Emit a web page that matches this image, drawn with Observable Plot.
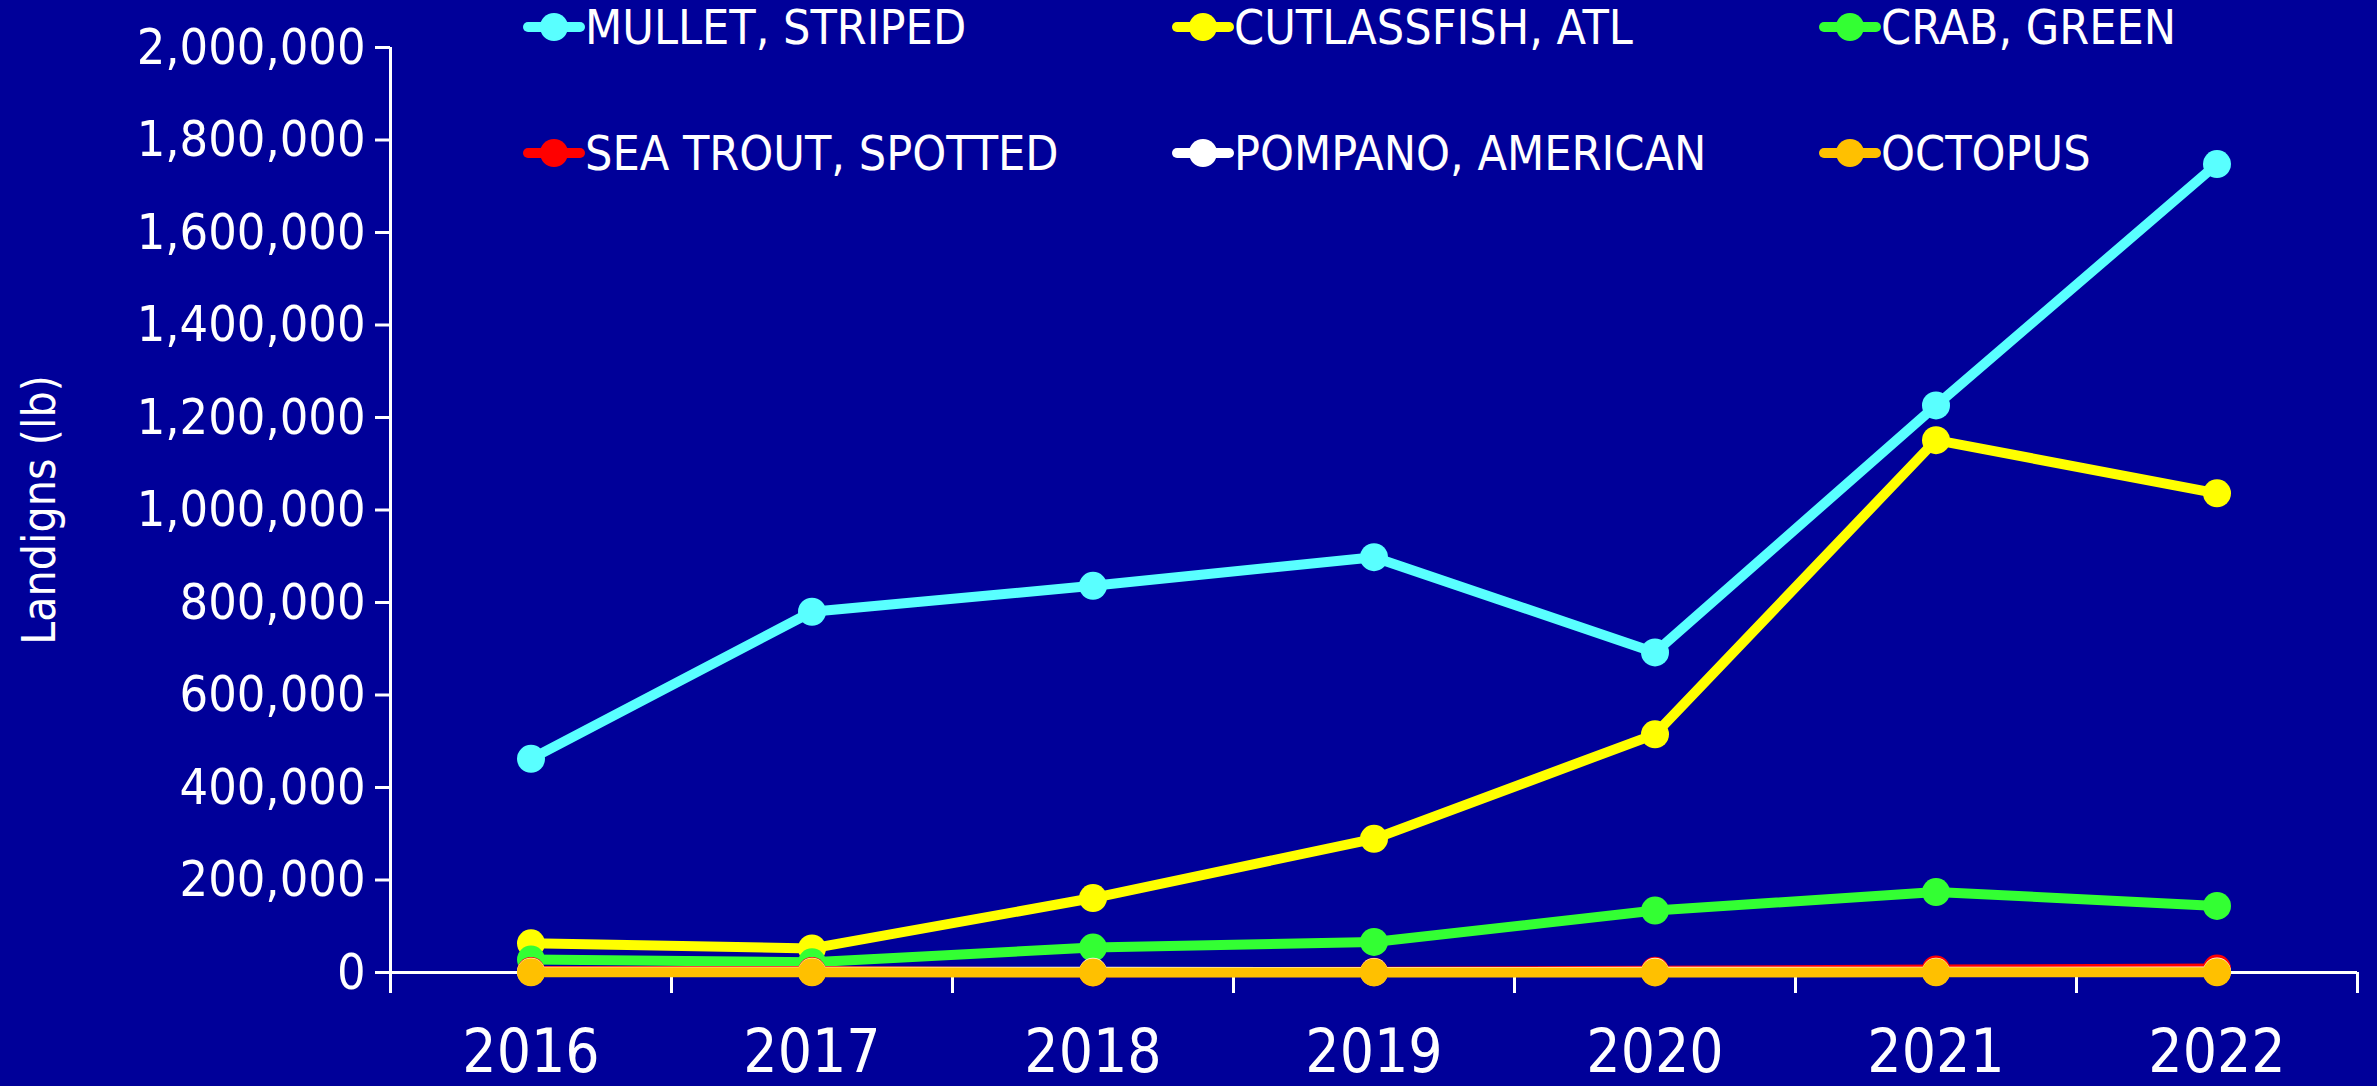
<!DOCTYPE html>
<html>
<head>
<meta charset="utf-8">
<script src="https://cdn.jsdelivr.net/npm/d3@7"></script>
<script src="https://cdn.jsdelivr.net/npm/@observablehq/plot@0.6"></script>
<style>
  html, body { margin: 0; padding: 0; background: #000099; }
  #wrap { position: relative; width: 2377px; height: 1086px; background: #000099; overflow: hidden; }
  #chart { position: absolute; left: 0; top: 0; }
  .legend-item { position: absolute; display: flex; align-items: center; height: 60px; margin-top: -30px;
    font-family: "DejaVu Sans Condensed", "DejaVu Sans", sans-serif; font-size: 48px; color: #ffffff; white-space: nowrap; }
  .legend-item svg { display: block; flex: none; }
</style>
</head>
<body>
<div id="wrap"><div id="chart"></div></div>
<script>
const years = [2016, 2017, 2018, 2019, 2020, 2021, 2022];
const seriesNames = ["MULLET, STRIPED", "CUTLASSFISH, ATL", "CRAB, GREEN", "SEA TROUT, SPOTTED", "POMPANO, AMERICAN", "OCTOPUS"];
const seriesColors = ["#59FFFF", "#FFFF00", "#33FF33", "#FF0000", "#FFFFFF", "#FFC000"];
const mullet      = [462000, 780000, 836000, 898000, 692000, 1226000, 1748000];
const cutlassfish = [63000, 52000, 161000, 289000, 515000, 1151000, 1036000];
const crab        = [28000, 22000, 54000, 66000, 134000, 174000, 144000];
const seaTrout    = [3000, 3000, 500, 1500, 4000, 6500, 8500];
const pompano     = [1500, 1500, 1500, 1000, 1500, 1500, 2000];
const octopus     = [300, 300, 200, 200, 200, 300, 300];
const yTicks = [0, 200000, 400000, 600000, 800000, 1000000, 1200000, 1400000, 1600000, 1800000, 2000000];
const yLabel = "Landigns (lb)";

const seriesValues = [mullet, cutlassfish, crab, seaTrout, pompano, octopus];
const edges = [years[0] - 0.5, ...years.map(y => y + 0.5)];
const font = '"DejaVu Sans Condensed", "DejaVu Sans", sans-serif';

const marks = [
  Plot.ruleY([0], {stroke: "#ffffff", strokeWidth: 3}),
  Plot.ruleX([edges[0]], {stroke: "#ffffff", strokeWidth: 3, insetBottom: -21}),
  Plot.axisY({ticks: yTicks, tickFormat: d3.format(","), tickSize: 15, tickPadding: 10, fontSize: 50,
              stroke: "#ffffff", strokeWidth: 3, color: "#ffffff", label: null}),
  Plot.axisX({ticks: edges, tickSize: 21, tickFormat: () => "", stroke: "#ffffff", strokeWidth: 3, label: null}),
  Plot.axisX({ticks: years, tickSize: 0, tickPadding: 57, tickFormat: d => String(d), fontSize: 60, color: "#ffffff", label: null}),
  Plot.text([yLabel], {frameAnchor: "left", textAnchor: "middle", dx: -350, rotate: -90, fontSize: 46, fill: "#ffffff", text: d => d})
];
seriesValues.forEach((vals, i) => {
  const data = years.map((yr, j) => ({year: yr, value: vals[j]}));
  marks.push(Plot.line(data, {x: "year", y: "value", stroke: seriesColors[i], strokeWidth: 10, strokeLinejoin: "round"}));
  marks.push(Plot.dot(data, {x: "year", y: "value", r: 14, fill: seriesColors[i], stroke: "none"}));
});

const chart = Plot.plot({
  width: 2377,
  height: 1086,
  marginLeft: 390,
  marginRight: 20,
  marginTop: 47,
  marginBottom: 114,
  style: {background: "#000099", color: "#ffffff", fontFamily: font, overflow: "visible"},
  x: {type: "linear", domain: [edges[0], edges[edges.length - 1]]},
  y: {type: "linear", domain: [0, 2000000]},
  marks
});
document.getElementById("chart").appendChild(chart);

// Legend overlay (two rows, three columns)
const wrap = document.getElementById("wrap");
const colX = [523, 1172, 1819];
const rowY = [27, 153];
seriesNames.forEach((name, i) => {
  const item = document.createElement("div");
  item.className = "legend-item";
  item.style.left = colX[i % 3] + "px";
  item.style.top = rowY[Math.floor(i / 3)] + "px";
  const ns = "http://www.w3.org/2000/svg";
  const sw = document.createElementNS(ns, "svg");
  sw.setAttribute("width", 62); sw.setAttribute("height", 32);
  const ln = document.createElementNS(ns, "line");
  ln.setAttribute("x1", 5); ln.setAttribute("x2", 57); ln.setAttribute("y1", 16); ln.setAttribute("y2", 16);
  ln.setAttribute("stroke", seriesColors[i]); ln.setAttribute("stroke-width", 10); ln.setAttribute("stroke-linecap", "round");
  const c = document.createElementNS(ns, "circle");
  c.setAttribute("cx", 31); c.setAttribute("cy", 16); c.setAttribute("r", 14); c.setAttribute("fill", seriesColors[i]);
  sw.appendChild(ln); sw.appendChild(c);
  const t = document.createElement("span");
  t.textContent = name;
  item.appendChild(sw); item.appendChild(t);
  wrap.appendChild(item);
});
</script>
</body>
</html>
